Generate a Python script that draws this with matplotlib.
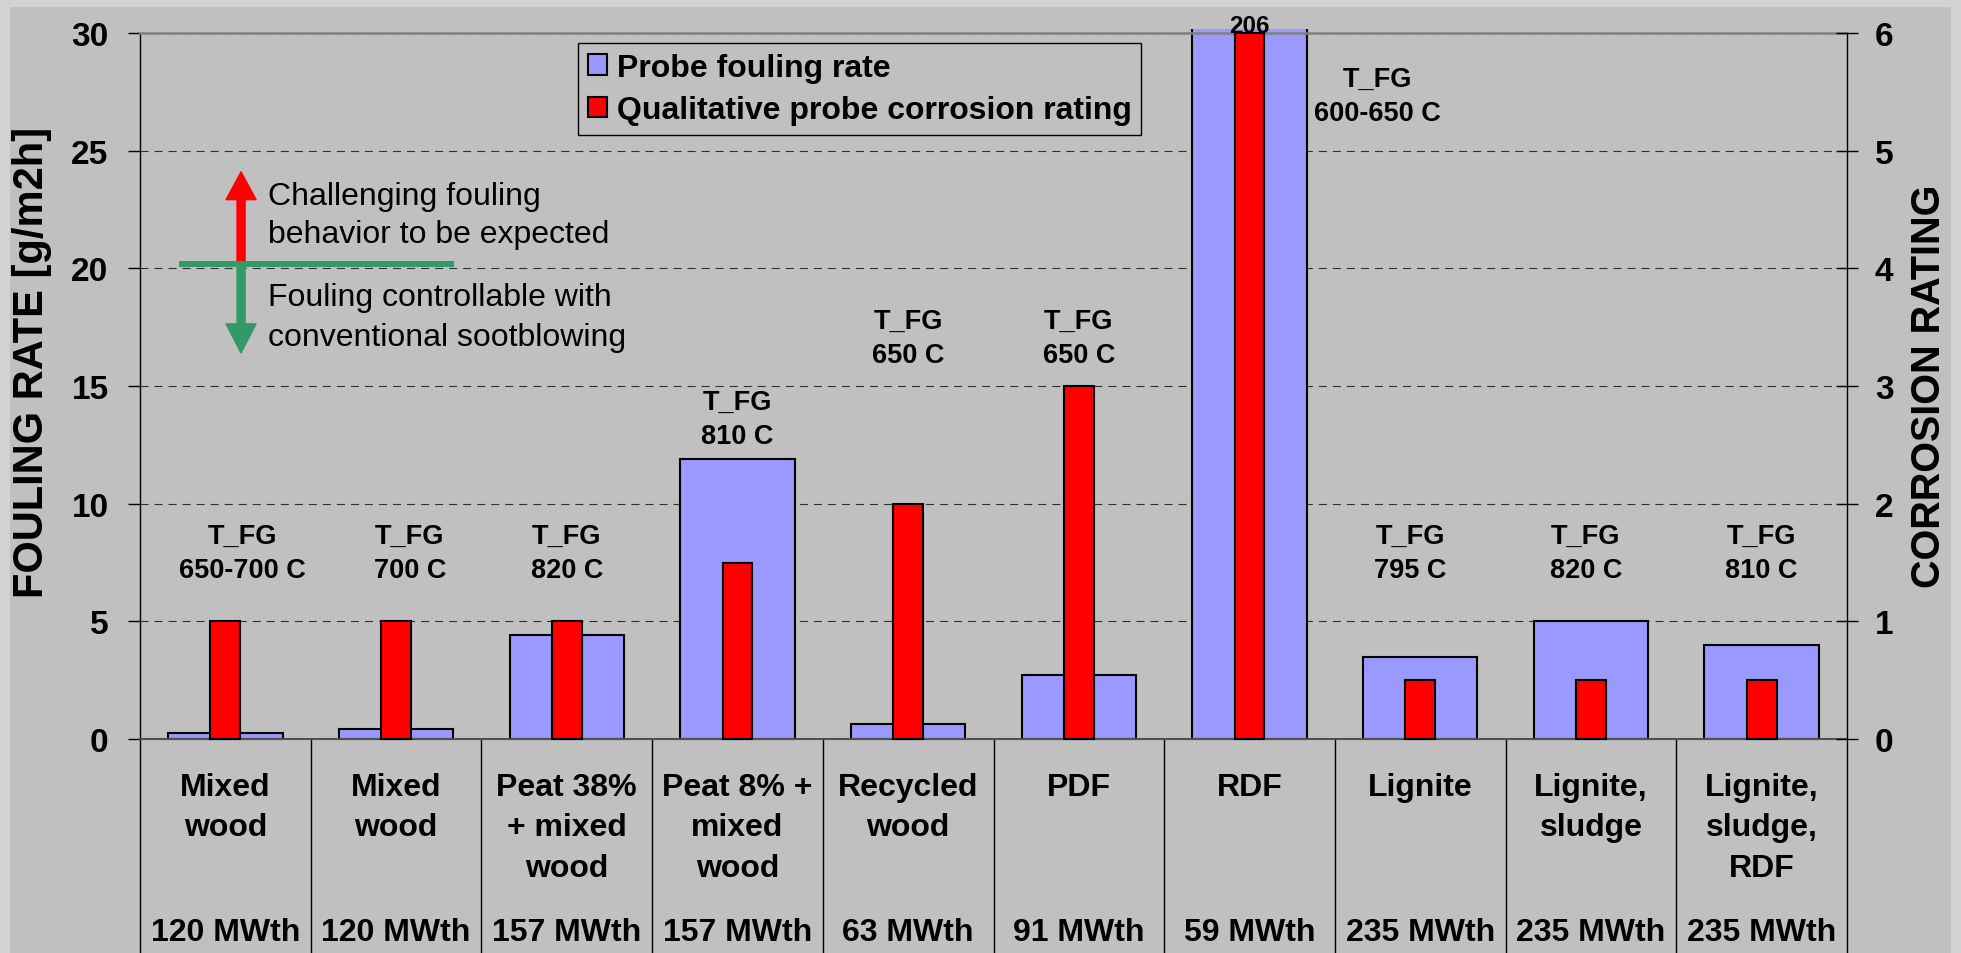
import numpy as np
import matplotlib.pyplot as plt
from matplotlib.patches import FancyArrowPatch, Patch, Rectangle
from matplotlib.transforms import Bbox, TransformedBbox, blended_transform_factory

plt.rcParams['font.family'] = ['Liberation Sans', 'DejaVu Sans']
plt.rcParams['font.weight'] = 'bold'
plt.rcParams['lines.scale_dashes'] = False

# data
fuels = ["Mixed\nwood", "Mixed\nwood", "Peat 38%\n+ mixed\nwood", "Peat 8% +\nmixed\nwood",
         "Recycled\nwood", "PDF", "RDF", "Lignite", "Lignite,\nsludge", "Lignite,\nsludge,\nRDF"]
power = ["120 MWth", "120 MWth", "157 MWth", "157 MWth", "63 MWth",
         "91 MWth", "59 MWth", "235 MWth", "235 MWth", "235 MWth"]
fouling = [0.25, 0.42, 4.4, 11.9, 0.62, 2.7, 206, 3.5, 5.0, 4.0]
corrosion = [1, 1, 1, 1.5, 2, 3, 6, 0.5, 0.5, 0.5]
t_fg = ["650-700 C", "700 C", "820 C", "810 C", "650 C",
        "650 C", "600-650 C", "795 C", "820 C", "810 C"]

# where the T_FG notes sit (fouling units / category offset)
tfg_y = [8.63, 8.63, 8.63, 14.32, 17.76, 17.76, 28.05, 8.63, 8.63, 8.63]
tfg_dx = [0.1, 0.08, 0, 0, 0, 0, 0.75, -0.06, -0.03, 0]

W, H = 1961, 954
BG = '#C0C0C0'

def fx(px):
    return px / W

def fy(py):
    return 1 - py / H

fig = plt.figure(figsize=(W / 100, H / 100), dpi=100, facecolor='#D2D2D2')
fig.patches.append(Rectangle((fx(10), 0), fx(1941), fy(8), transform=fig.transFigure,
                             facecolor=BG, edgecolor='none', zorder=-10))

ax = fig.add_axes([fx(140), fy(740), fx(1847 - 140), (740 - 34) / H])
ax.set_facecolor(BG)
x = np.arange(len(fuels))

blue = ax.bar(x, fouling, width=0.67, color='#9999FF', edgecolor='black', linewidth=1.5, zorder=2)
ax.set_xlim(-0.5, 9.5)
ax.set_ylim(0, 30)
ax.set_yticks(range(0, 31, 5))
ax.yaxis.grid(True, linestyle=(0, (5.8, 4.3)), color='#303030', linewidth=0.8)
ax.set_axisbelow(True)
ax.tick_params(axis='x', bottom=False, labelbottom=False)
ax.tick_params(axis='y', direction='out', length=8.6, width=1, pad=14, labelsize=24)

ax2 = ax.twinx()
red = ax2.bar(x, corrosion, width=0.175, color='#FF0000', edgecolor='black', linewidth=1.5, zorder=3)
ax2.set_ylim(0, 6)
ax2.set_yticks(range(0, 7))
ax2.tick_params(axis='y', direction='inout', length=16, width=1, pad=12, labelsize=24)

for s in ['top', 'bottom', 'left']:
    ax2.spines[s].set_visible(False)
ax.spines['right'].set_visible(False)
ax.spines['top'].set_color('#808080')
ax.spines['top'].set_linewidth(1.8)
ax.spines['bottom'].set_color('#505050')
ax.spines['bottom'].set_linewidth(1.5)
ax.spines['left'].set_linewidth(1)
ax2.spines['right'].set_linewidth(1)

# RDF bars poke a little above the frame
clip = TransformedBbox(Bbox([[0, -0.01], [1, 1.006]]), ax.transAxes)
for b in list(blue) + list(red):
    b.set_clip_box(clip)

ax2.text(6, 30.05, '206', transform=ax.transData, ha='center', va='baseline', fontsize=17.5, zorder=5)

# T_FG notes
for i in range(len(fuels)):
    ax2.text(i + tfg_dx[i], tfg_y[i], 'T_FG', transform=ax.transData, ha='center', va='center', fontsize=19.5)
    ax2.text(i + tfg_dx[i], tfg_y[i] - 1.44, t_fg[i], transform=ax.transData, ha='center', va='center', fontsize=19.5)

# table under the chart
tb = blended_transform_factory(ax.transData, fig.transFigure)
for b in np.arange(-0.5, 10, 1):
    ax.plot([b, b], [fy(740), 0], transform=tb, color='black', linewidth=1, clip_on=False)
for i, name in enumerate(fuels):
    for k, line in enumerate(name.split('\n')):
        fig.text(i, fy(788 + 40.3 * k), line, transform=tb, ha='center', va='center', fontsize=23)
    fig.text(i, fy(933), power[i], transform=tb, ha='center', va='center', fontsize=23)

# fouling threshold sketch
bl = blended_transform_factory(ax.transAxes, ax.transData)
ax_x = 0.0592
up = FancyArrowPatch((ax_x, 20.2), (ax_x, 24.1), transform=bl,
                     arrowstyle='simple,head_length=20,head_width=21.6,tail_width=5.8',
                     color='#FF0000', shrinkA=0, shrinkB=0, zorder=4)
down = FancyArrowPatch((ax_x, 20.2), (ax_x, 16.4), transform=bl,
                       arrowstyle='simple,head_length=21,head_width=21.6,tail_width=5.8',
                       color='#339966', shrinkA=0, shrinkB=0, zorder=4)
ax.add_patch(up)
ax.add_patch(down)
ax.plot([0.0228, 0.184], [20.2, 20.2], transform=bl, color='#339966', linewidth=4.3,
        solid_capstyle='butt', zorder=5)

note_kw = dict(ha='left', va='center', fontsize=23, fontweight='normal')
fig.text(fx(268), fy(197), 'Challenging fouling', **note_kw)
fig.text(fx(268), fy(235), 'behavior to be expected', **note_kw)
fig.text(fx(268), fy(298), 'Fouling controllable with', **note_kw)
fig.text(fx(268), fy(338), 'conventional sootblowing', **note_kw)

# axis titles
fig.text(fx(32), fy(362), 'FOULING RATE [g/m2h]', rotation=90, ha='center', va='center', fontsize=30)
fig.text(fx(1929), fy(386), 'CORROSION RATING', rotation=90, ha='center', va='center', fontsize=28.5)

handles = [Patch(facecolor='#9999FF', edgecolor='black', linewidth=1.5),
           Patch(facecolor='#FF0000', edgecolor='black', linewidth=1.5)]
leg = ax2.legend(handles, ['Probe fouling rate', 'Qualitative probe corrosion rating'],
                 loc='upper left', bbox_to_anchor=(fx(578), fy(44)), bbox_transform=fig.transFigure,
                 borderaxespad=0, fontsize=23, frameon=True, fancybox=False,
                 handlelength=0.62, handleheight=0.62, handletextpad=0.3,
                 borderpad=0.3, labelspacing=0.4)
leg.get_frame().set_facecolor(BG)
leg.get_frame().set_edgecolor('black')
leg.get_frame().set_linewidth(1)
leg.get_frame().set_alpha(1)

fig.savefig('out.png', dpi=100, facecolor=fig.get_facecolor())
